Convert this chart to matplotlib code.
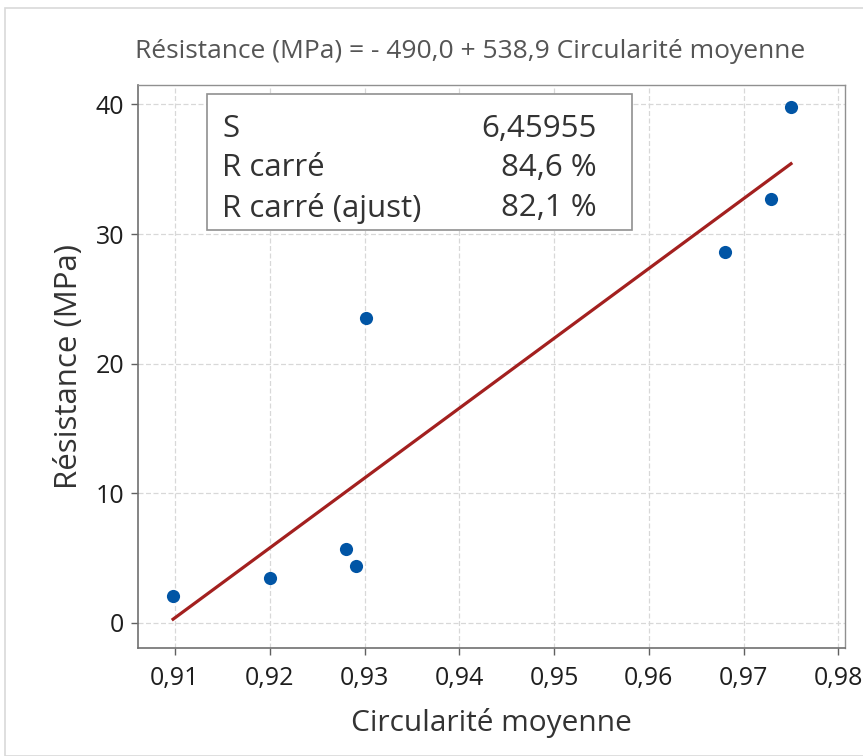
import matplotlib
matplotlib.use("Agg")
import matplotlib.pyplot as plt
from matplotlib.patches import Rectangle
import numpy as np

plt.rcParams['font.family'] = ['Open Sans', 'DejaVu Sans']

circ = [0.9098, 0.920, 0.9281, 0.9291, 0.9302, 0.968, 0.9729, 0.975]
resist = [2.1, 3.5, 5.7, 4.4, 23.5, 28.6, 32.7, 39.8]
intercept = -490.0
slope = 538.9
xticks = [0.91, 0.92, 0.93, 0.94, 0.95, 0.96, 0.97, 0.98]
xticklabels = ["0,91", "0,92", "0,93", "0,94", "0,95", "0,96", "0,97", "0,98"]
yticks = [0, 10, 20, 30, 40]
stat_names = ["S", "R carré", "R carré (ajust)"]
stat_values = ["6,45955", "84,6 %", "82,1 %"]
title = "Résistance (MPa) = - 490,0 + 538,9 Circularité moyenne"

fig = plt.figure(figsize=(8.63, 7.56), dpi=100)
fig.patches.append(Rectangle((5/863, 0.0), 1.0, 1 - 8/756, transform=fig.transFigure,
                             fill=False, edgecolor="#d9d9d9", linewidth=1.2))
ax = fig.add_axes([138/863, 1 - 648/756, (845-138)/863, (648-85)/756])

ax.set_xlim(0.9061, 0.9807)
ax.set_ylim(-1.93, 41.5)

ax.grid(True, color="#d8d8d8", linestyle=(0, (4, 2)), linewidth=0.9)
ax.set_axisbelow(True)

xs = np.array([min(circ), max(circ)])
ax.plot(xs, intercept + slope * xs, color="#a3201f", linewidth=2.3, zorder=3)
ax.scatter(circ, resist, s=90, color="#0155a5", marker="o", zorder=4, linewidths=0)

ax.set_xticks(xticks)
ax.set_xticklabels(xticklabels)
ax.set_yticks(yticks)
ax.tick_params(axis="both", labelsize=18, color="#606060", length=5, width=1,
               labelcolor="#1e1e1e")
ax.tick_params(axis="x", pad=8)
ax.tick_params(axis="y", pad=5)
ax.tick_params(top=False, right=False)
for lbl in ax.get_xticklabels() + ax.get_yticklabels():
    lbl.set_fontweight(500)
for side in ["left", "bottom"]:
    ax.spines[side].set_color("#707070")
    ax.spines[side].set_linewidth(1.2)
for side in ["top", "right"]:
    ax.spines[side].set_color("#909090")
    ax.spines[side].set_linewidth(1.0)

ax.set_xlabel("Circularité moyenne", fontsize=21.5, color="#333333", labelpad=12,
              fontweight=500)
ax.set_ylabel("Résistance (MPa)", fontsize=22.5, color="#333333", labelpad=8,
              fontweight=500)
fig.text(470/863, 1 - 52/756, title, fontsize=19, color="#555555",
         ha="center", va="center")

# stats box
box = Rectangle((207/863, 1 - 230/756), (632-207)/863, (230-94)/756,
                transform=fig.transFigure, fill=True, facecolor="white",
                edgecolor="#909090", linewidth=1.2, zorder=5)
fig.patches.append(box)
row_y = [129, 168, 208]
for name, val, yy in zip(stat_names, stat_values, row_y):
    fig.text(222/863, 1 - yy/756, name, fontsize=22.5, color="#333333",
             va="center", ha="left", zorder=6, fontweight=500)
    fig.text(597/863, 1 - yy/756, val, fontsize=22.5, color="#333333",
             va="center", ha="right", zorder=6, fontweight=500)

fig.savefig("out.png", dpi=100)
